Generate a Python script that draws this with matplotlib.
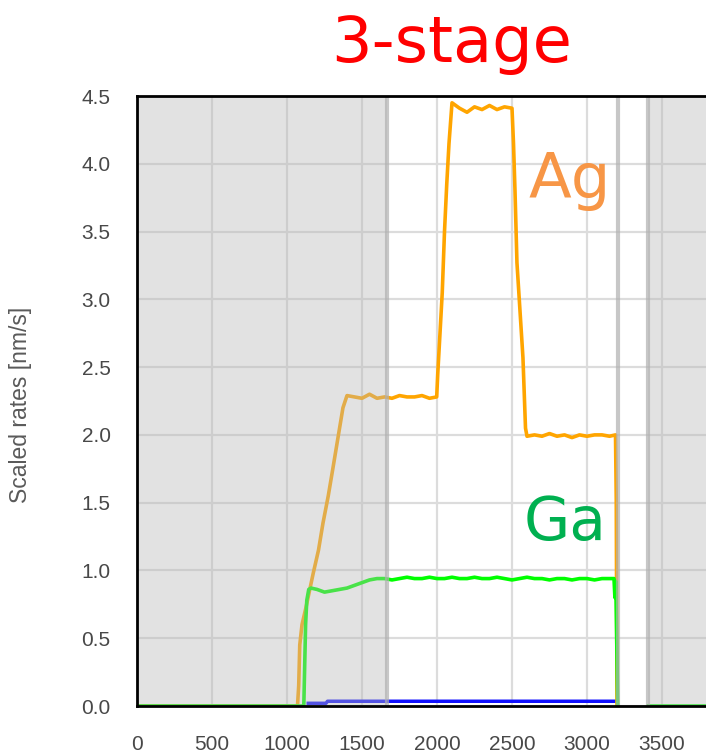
import numpy as np
import matplotlib
matplotlib.use("Agg")
import matplotlib.pyplot as plt

# ---------------- data ----------------
ag_t = [0, 1070, 1078, 1085, 1100, 1125, 1150, 1175, 1210, 1240, 1275, 1307, 1340, 1373, 1400,
        1450, 1500, 1550, 1600, 1650, 1700, 1750, 1800, 1850, 1900, 1950, 1998,
        2005, 2020, 2035, 2050, 2065, 2080, 2100,
        2150, 2200, 2250, 2300, 2350, 2400, 2450, 2500,
        2510, 2520, 2533, 2553, 2573, 2590, 2600,
        2650, 2700, 2750, 2800, 2850, 2900, 2950, 3000, 3050, 3100, 3150, 3190,
        3195, 3200]
ag_v = [0, 0, 0.15, 0.45, 0.6, 0.72, 0.85, 0.98, 1.15, 1.35, 1.55, 1.76, 1.98, 2.2, 2.29,
        2.28, 2.27, 2.30, 2.27, 2.28, 2.27, 2.29, 2.28, 2.28, 2.29, 2.27, 2.28,
        2.45, 2.75, 3.05, 3.5, 3.85, 4.15, 4.45,
        4.41, 4.38, 4.42, 4.40, 4.43, 4.40, 4.42, 4.41,
        4.15, 3.8, 3.27, 2.92, 2.57, 2.05, 1.99,
        2.00, 1.99, 2.01, 1.99, 2.00, 1.98, 2.00, 1.99, 2.00, 2.00, 1.99, 2.00,
        1.52, 0.0]

ga_t = [0, 1112, 1118, 1124, 1132, 1145, 1160, 1200, 1250, 1300, 1350, 1400, 1450, 1500,
        1550, 1600, 1650, 1700, 1750, 1800, 1850, 1900, 1950, 2000, 2050, 2100, 2150,
        2200, 2250, 2300, 2350, 2400, 2450, 2500, 2550, 2600, 2650, 2700, 2750, 2800,
        2850, 2900, 2950, 3000, 3050, 3100, 3150, 3180, 3186, 3192, 3205,
        3300, 3410, 3800]
ga_v = [0, 0, 0.3, 0.6, 0.78, 0.86, 0.87, 0.86, 0.84, 0.85, 0.86, 0.87, 0.89, 0.91,
        0.93, 0.94, 0.94, 0.93, 0.94, 0.95, 0.94, 0.94, 0.95, 0.94, 0.94, 0.95, 0.94,
        0.94, 0.95, 0.94, 0.94, 0.95, 0.94, 0.93, 0.94, 0.95, 0.94, 0.94, 0.93, 0.94,
        0.94, 0.93, 0.94, 0.94, 0.93, 0.94, 0.94, 0.94, 0.80, 0.92, 0.0,
        np.nan, 0.0, 0.0]

bl_t = [1130, 1260, 1270, 3205]
bl_v = [0.02, 0.02, 0.035, 0.035]

x_ticks = [0, 500, 1000, 1500, 2000, 2500, 3000, 3500]
y_ticks = [0.0, 0.5, 1.0, 1.5, 2.0, 2.5, 3.0, 3.5, 4.0, 4.5]

shaded = [(0, 1670), (3410, 3800)]
markers = [1670, 3205, 3410]

# ---------------- plot ----------------
W, H = 706, 754
fig = plt.figure(figsize=(W / 100, H / 100), dpi=100)
L, B, R, T = 137, 706, 706, 96
ax = fig.add_axes([L / W, (H - B) / H, (R - L) / W, (B - T) / H])
ax.set_xlim(0, (R - L) / 0.15)
ax.set_ylim(0, 4.5)

ax.set_xticks(x_ticks)
ax.set_yticks(y_ticks)
ax.set_xticklabels([str(v) for v in x_ticks])
ax.set_yticklabels([f"{v:.1f}" for v in y_ticks])
ax.tick_params(axis='both', length=0, labelsize=15, labelcolor='#484848')
ax.tick_params(axis='x', pad=21)
ax.tick_params(axis='y', pad=19)
for lab in ax.get_xticklabels() + ax.get_yticklabels():
    lab.set_family('Liberation Sans')

ax.grid(True, color='#dcdcdc', lw=1.6, zorder=0)
ax.set_axisbelow(True)

ax.plot(bl_t, bl_v, color='#1010ff', lw=2.5, zorder=2, solid_capstyle='butt')
ax.plot(ag_t, ag_v, color='#ffa500', lw=2.6, zorder=2.1)
ax.plot(ga_t, ga_v, color='#00ff00', lw=2.6, zorder=2.2)

for a, b in shaded:
    ax.axvspan(a, b, color='#b8b8b8', alpha=0.4, lw=0, zorder=3)
for m in markers:
    ax.axvline(m, color='#b0b0b0', alpha=0.7, lw=3, zorder=3.5)

for s in ['top', 'left', 'bottom']:
    ax.spines[s].set_color('black')
    ax.spines[s].set_linewidth(2)
    ax.spines[s].set_zorder(5)
ax.spines['right'].set_visible(False)

ax.set_ylabel('Scaled rates [nm/s]', family='Liberation Sans', fontsize=16.5,
              color='#5a5a5a')
ax.yaxis.set_label_coords((32 - L) / (R - L), (B - 405) / (B - T))

ax.text(2887, 3.75, 'Ag', color='#F79646', fontsize=45, ha='center', va='baseline',
        family='DejaVu Sans', zorder=6)
ax.text(2853, 1.224, 'Ga', color='#00B050', fontsize=43, ha='center', va='baseline',
        family='DejaVu Sans', zorder=6)

fig.text(452 / W, 1 - 44 / H, '3-stage', color='#ff0000', fontsize=46,
         ha='center', va='center', family='DejaVu Sans')

fig.savefig('out.png', dpi=100)
